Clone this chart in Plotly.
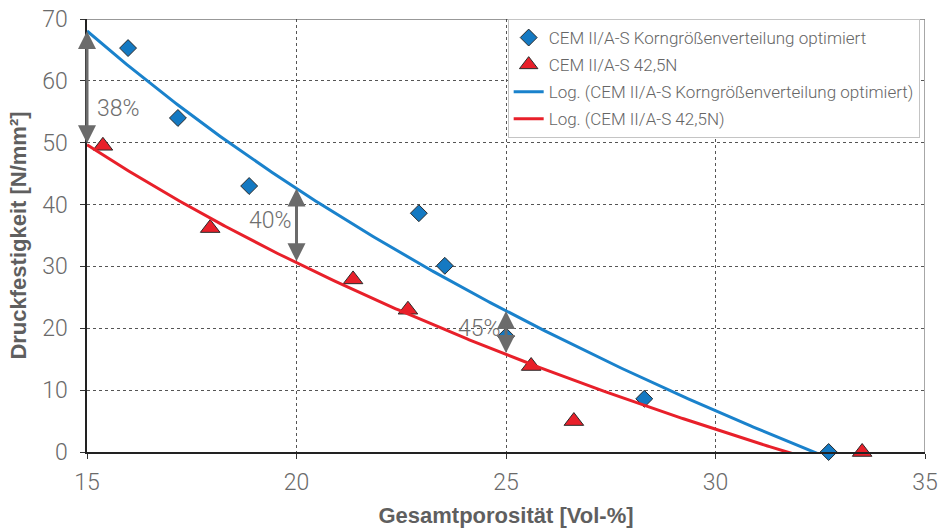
import numpy as np
import plotly.graph_objects as go

# Data
blue_x = [15.98, 17.17, 18.87, 22.92, 23.54, 25.0, 28.3, 32.7]
blue_y = [65.3, 54.0, 43.0, 38.6, 30.1, 18.7, 8.6, 0.0]
red_x = [15.38, 17.94, 21.35, 22.66, 25.6, 26.62, 33.5]
red_y = [49.5, 36.2, 27.9, 23.0, 13.9, 5.0, 0.0]

# logarithmic trend lines  y = a*ln(x) + b
blue_trend = [-88.6, 308.0]
red_trend = [-66.4, 229.5]

arrow_x = [15, 20, 25]
arrow_labels = ["38%", "40%", "45%"]
label_pos = [(15.74, 55.6), (19.39, 37.5), (24.36, 19.9)]

x_ticks = [15, 20, 25, 30, 35]
y_ticks = [0, 10, 20, 30, 40, 50, 60, 70]

BLUE = "#1a82cc"
BLUE_M = "#1479c2"
RED = "#e8202a"
GRAY_TXT = "#5f5f5f"
ARROW = "#6b6b6b"


def trend(c, x):
    return c[0] * np.log(np.asarray(x, dtype=float)) + c[1]


tx = np.linspace(15, 35, 400)

fig = go.Figure()
fig.add_trace(go.Scatter(
    x=blue_x, y=blue_y, mode="markers",
    name="CEM II/A-S Korngrößenverteilung optimiert",
    marker=dict(symbol="diamond", size=13, color=BLUE_M, line=dict(color="#2a2a2a", width=1)),
    cliponaxis=False, legendgroup="a"))
fig.add_trace(go.Scatter(
    x=red_x, y=red_y, mode="markers",
    name="CEM II/A-S 42,5N",
    marker=dict(symbol="triangle-up", size=17, color=RED, line=dict(color="#2a2a2a", width=1)),
    cliponaxis=False, legendgroup="b"))
fig.add_trace(go.Scatter(
    x=tx, y=trend(blue_trend, tx), mode="lines",
    name="Log. (CEM II/A-S Korngrößenverteilung optimiert)",
    line=dict(color=BLUE, width=3), legendgroup="c"))
fig.add_trace(go.Scatter(
    x=tx, y=trend(red_trend, tx), mode="lines",
    name="Log. (CEM II/A-S 42,5N)",
    line=dict(color=RED, width=3), legendgroup="d"))

annotations = []
for xa in arrow_x:
    y_top = float(trend(blue_trend, [xa])[0])
    y_bot = float(trend(red_trend, [xa])[0])
    annotations.append(dict(
        x=xa, y=y_top, ax=xa, ay=y_bot, xref="x", yref="y", axref="x", ayref="y",
        text="", showarrow=True, arrowhead=2, startarrowhead=2, arrowside="end+start",
        arrowsize=1.2, startarrowsize=1.2, arrowwidth=3, arrowcolor=ARROW,
        standoff=0, startstandoff=0))
for (lx, ly), txt in zip(label_pos, arrow_labels):
    annotations.append(dict(
        x=lx, y=ly, xref="x", yref="y", text=txt, showarrow=False,
        font=dict(family="Roboto", size=23, color="#6e6e6e", weight=300)))

fig.update_layout(
    width=939, height=528,
    margin=dict(l=87, r=14, t=19, b=76, autoexpand=False),
    paper_bgcolor="white", plot_bgcolor="white",
    font=dict(family="Roboto", color=GRAY_TXT),
    showlegend=True,
    legend=dict(
        x=0.502, y=1.0, xanchor="left", yanchor="top",
        bgcolor="white", bordercolor="#c4c4c4", borderwidth=1,
        font=dict(family="Roboto", size=17, color="#666666", weight=300),
        traceorder="grouped", tracegroupgap=2,
    ),
    annotations=annotations,
    shapes=[
        dict(type="line", xref="x", yref="y", x0=15, x1=35, y0=70, y1=70,
             line=dict(color="#333333", width=1)),
        dict(type="line", xref="x", yref="y", x0=35, x1=35, y0=0, y1=70,
             line=dict(color="#8a8a8a", width=1.5)),
    ],
)

fig.update_xaxes(
    range=[15, 35], tickvals=x_ticks, ticktext=[str(v) for v in x_ticks],
    showgrid=True, gridcolor="#555555", griddash="dot", gridwidth=1,
    showline=True, linecolor="#222222", linewidth=1.5,
    ticks="outside", ticklen=5, tickcolor="#333333", automargin=False,
    ticklabelstandoff=4,
    tickfont=dict(family="Roboto", size=23, color="#6a6a6a", weight=300),
    title=dict(text="Gesamtporosität [Vol-%]", standoff=15,
               font=dict(family="Liberation Sans", size=22, color=GRAY_TXT, weight="bold")),
    zeroline=False,
)
fig.update_yaxes(
    range=[0, 70], tickvals=y_ticks, ticktext=[str(v) for v in y_ticks],
    showgrid=True, gridcolor="#555555", griddash="dot", gridwidth=1,
    showline=True, linecolor="#222222", linewidth=1.5,
    ticks="outside", ticklen=5, tickcolor="#333333", automargin=False,
    ticklabelstandoff=8,
    tickfont=dict(family="Roboto", size=23, color="#6a6a6a", weight=300),
    title=dict(text="Druckfestigkeit [N/mm²]", standoff=9,
               font=dict(family="Liberation Sans", size=22, color=GRAY_TXT, weight="bold")),
    zeroline=False,
)

fig.write_html("out.html")
